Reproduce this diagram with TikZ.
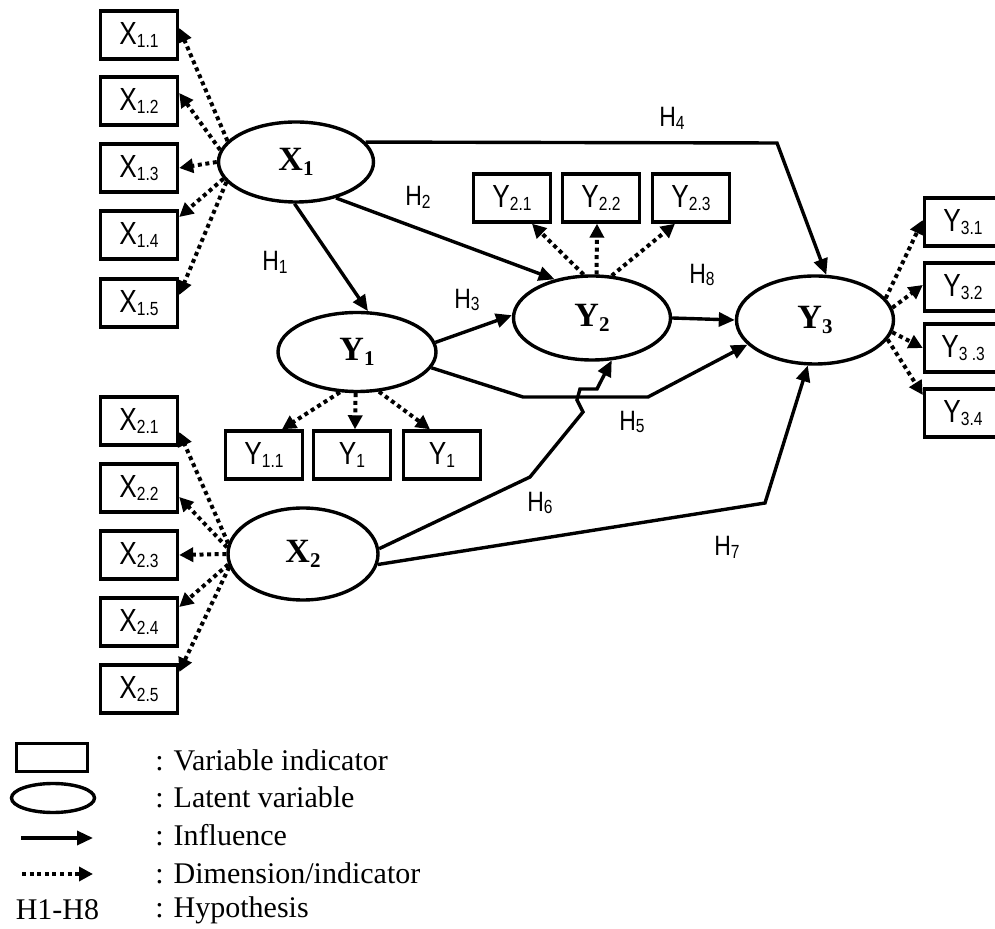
\documentclass[tikz,border=0pt]{standalone}
\usepackage{fontspec}
\usepackage{graphicx}
\setmainfont{Liberation Serif}
\newfontfamily\narrowsf[FakeStretch=0.82]{Liberation Sans}
\usetikzlibrary{shapes.geometric,arrows.meta,calc}
\newcommand{\ind}[2]{#1\raisebox{-0.1em}{\fontsize{9.5}{10}\selectfont #2}}
\newcommand{\lat}[2]{\textbf{#1}\raisebox{-0.15em}{\fontsize{10.5}{11}\selectfont\bfseries #2}}
\tikzset{
  indbox/.style={draw,rectangle,line width=1.7pt,minimum width=38.5pt,minimum height=24pt,inner sep=0pt,font=\narrowsf\fontsize{16}{18}\selectfont},
  latent/.style={draw,ellipse,line width=1.7pt,inner sep=0pt,font=\fontsize{17}{19}\selectfont},
  hyp/.style={font=\narrowsf\fontsize{14}{16}\selectfont,inner sep=0pt},
  influence/.style={line width=1.7pt,-{Triangle[length=8pt,width=7pt]}},
  dimension/.style={line width=2pt,dash pattern=on 2pt off 1.8pt,-{Triangle[length=7pt,width=7pt]}},
  legtext/.style={anchor=west,font=\fontsize{15}{17}\selectfont,inner sep=0pt}
}

\begin{document}
\begin{tikzpicture}[x=0.5pt,y=-0.5pt]
\useasboundingbox (0,0) rectangle (995,929);
% latent variables
\node[latent,minimum width=77.5pt,minimum height=40pt] (X1) at (296,162) {\lat{X}{1}};
\node[latent,minimum width=75pt,minimum height=46pt] (X2) at (303,554) {\lat{X}{2}};
\node[latent,minimum width=79pt,minimum height=39.5pt] (Y1) at (357,352) {\lat{Y}{1}};
\node[latent,minimum width=78.5pt,minimum height=42pt] (Y2) at (592,318) {\lat{Y}{2}};
\node[latent,minimum width=78.5pt,minimum height=44pt] (Y3) at (815,320) {\lat{Y}{3}};
% indicators
\foreach \i/\y in {1/35,2/101,3/168,4/235,5/303}
  \node[indbox] (x1\i) at (139,\y) {\ind{X}{1.\i}};
\foreach \i/\y in {1/421,2/488,3/555,4/622,5/689}
  \node[indbox] (x2\i) at (139,\y) {\ind{X}{2.\i}};
\foreach \i/\x/\t in {1/264/1.1,2/352/1,3/442/1}
  \node[indbox] (y1\i) at (\x,455) {\ind{Y}{\t}};
\foreach \i/\x in {1/512,2/601,3/691}
  \node[indbox] (y2\i) at (\x,198) {\ind{Y}{2.\i}};
\foreach \i/\y/\t in {1/222/3.1,2/287/3.2,3/348/3 .3,4/413/3.4}
  \node[indbox] (y3\i) at (963,\y) {\ind{Y}{\t}};
% dimension arrows
\foreach \i/\a/\d in {1/163/-7,2/171/-8,3/180/0,4/193/-18,5/196/-8}
  \draw[dimension] (X1.\a) -- ($(x1\i.east)+(0,\d)$);
\foreach \i/\a/\d in {1/172/11,2/175/9,3/180/0,4/188/-15,5/190/-17}
  \draw[dimension] (X2.\a) -- ($(x2\i.east)+(0,\d)$);
\foreach \i/\a/\d in {1/247/18,2/268/3,3/299/-12}
  \draw[dimension] (Y1.\a) -- ($(y1\i.north)+(\d,0)$);
\foreach \i/\a/\d in {1/101/20,2/84/-4,3/65/-16}
  \draw[dimension] (Y2.\a) -- ($(y2\i.south)+(\d,0)$);
\foreach \i/\a/\d in {1/17/-2,2/9/-2,3/351/0,4/345/-18}
  \draw[dimension] (Y3.\a) -- ($(y3\i.west)+(0,\d)$);
% hypotheses
\draw[influence] (X1.268) -- (Y1.75);
\draw[influence] (X1.318) -- (Y2.134);
\draw[influence] (Y1.7) -- (Y2.178);
\draw[influence] (X1.16) -- (777,143) -- (Y3.76);
\draw[influence] (Y1.348) -- (523,397) -- (648,397) -- (Y3.200);
\draw[influence] (X2.4) -- (530,477) -- (583,412) -- (577,400) -- (580,389) -- (597,389) -- (600,383) -- (Y2.295);
\draw[influence] (X2.352) -- (765,503) -- (Y3.261);
\draw[influence] (Y2.east) -- (Y3.west);
\node[hyp] (h1) at (275,262) {\ind{H}{1}};
\node[hyp] (h2) at (418,197) {\ind{H}{2}};
\node[hyp] (h3) at (467,300) {\ind{H}{3}};
\node[hyp] (h4) at (672,118) {\ind{H}{4}};
\node[hyp] (h5) at (632,422) {\ind{H}{5}};
\node[hyp] (h6) at (540,503) {\ind{H}{6}};
\node[hyp] (h7) at (727,547) {\ind{H}{7}};
\node[hyp] (h8) at (702,275) {\ind{H}{8}};
% legend
\node[indbox,minimum width=35.5pt,minimum height=14pt] (lgbox) at (52,757.5) {};
\node[latent,minimum width=41.5pt,minimum height=14.5pt] (lgell) at (53,798) {};
\coordinate (lgi1) at (21,838);
\coordinate (lgi2) at (93,838);
\coordinate (lgd1) at (22,874);
\coordinate (lgd2) at (93,874);
\draw[influence] (lgi1) -- (lgi2);
\draw[dimension] (lgd1) -- (lgd2);
\node[legtext,anchor=center] (lgh) at (57.5,910) {H1-H8};
\node[legtext] (lt1) at (155,760) {: Variable indicator};
\node[legtext] (lt2) at (155,797) {: Latent variable};
\node[legtext] (lt3) at (155,835) {: Influence};
\node[legtext] (lt4) at (155,873) {: Dimension/indicator};
\node[legtext] (lt5) at (155,910) {: Hypothesis};
\end{tikzpicture}
\end{document}
